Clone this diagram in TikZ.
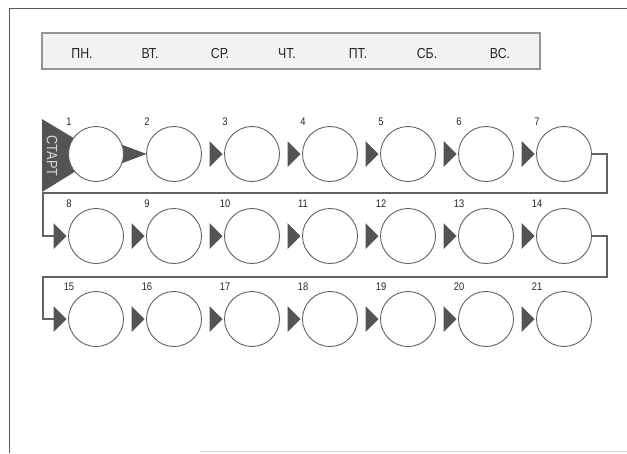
\documentclass[tikz,border=0pt]{standalone}
\usepackage{fontspec}
\setmainfont{Liberation Sans}
\newfontfamily\narrowfont{Liberation Sans}[FakeStretch=0.85]
\usetikzlibrary{calc}
\definecolor{linec}{gray}{0.38}
\definecolor{trig}{gray}{0.33}
\definecolor{hdrfill}{gray}{0.95}
\definecolor{hdrline}{gray}{0.58}
\begin{document}
\begin{tikzpicture}[x=1pt,y=-1pt,
  circ/.style={circle,draw=linec,line width=0.9pt,fill=white,minimum size=55pt,inner sep=0pt},
  num/.style={font=\narrowfont\fontsize{11}{11}\selectfont,text=black!85,inner sep=0pt},
  day/.style={font=\narrowfont\fontsize{14.5}{14.5}\selectfont,text=black!85,inner sep=0pt},
  tri/.style={fill=trig,draw=none},
  link/.style={draw=linec,line width=1.3pt},
  frame/.style={draw=black!65,line width=1pt}]
\useasboundingbox (0,0) rectangle (627,453);
% outer frame
\coordinate (f1) at (627,8);
\coordinate (f2) at (9,8);
\coordinate (f3) at (9,453);
\draw[frame] (f1) -- (f2) -- (f3);
\coordinate (g1) at (200,451);
\coordinate (g2) at (627,451);
\draw[draw=black!15,line width=1pt] (g1) -- (g2);
% header
\node[draw=hdrline,fill=hdrfill,line width=2pt,minimum width=498pt,minimum height=36pt,inner sep=0pt] (hdr) at (291,51) {};
\node[day] (d1) at (82,54) {ПН.};
\node[day] (d2) at (150,54) {ВТ.};
\node[day] (d3) at (220,54) {СР.};
\node[day] (d4) at (287,54) {ЧТ.};
\node[day] (d5) at (358,54) {ПТ.};
\node[day] (d6) at (427,54) {СБ.};
\node[day] (d7) at (500,54) {ВС.};
% start triangle
\coordinate (s1) at (42,119);
\coordinate (s2) at (42,192);
\coordinate (s3) at (102,155);
\fill[tri] (s1) -- (s3) -- (s2) -- cycle;
% circles
\foreach \n in {1,...,21}{
  \pgfmathtruncatemacro{\row}{(\n-1)/7}
  \pgfmathtruncatemacro{\col}{\n-1-7*\row}
  \pgfmathsetmacro{\cy}{\row==0 ? 154 : (\row==1 ? 236 : 319)}
  \coordinate (p\n) at ({96+78*\col},\cy);
}
% connectors between rows
\coordinate (k1) at (607,193);
\coordinate (k2) at (43,193);
\coordinate (k3) at (607,277);
\coordinate (k4) at (43,277);
\path (p8) ++(-27.5-15,0) coordinate (b8);
\path (p15) ++(-27.5-15,0) coordinate (b15);
\path (p7) ++(27.5,0) coordinate (e7);
\path (p14) ++(27.5,0) coordinate (e14);
\draw[link] (e7) -| (k1) -- (k2) |- (b8);
\draw[link] (e14) -| (k3) -- (k4) |- (b15);
% triangles between circles
\foreach \m in {3,4,5,6,7,8,9,10,11,12,13,14,15,16,17,18,19,20,21}{
  \fill[tri] ($(p\m)+(-29.5,0)$) -- ++(-13,-13) -- ++(0,26) -- cycle;
}
% triangle 1 -> 2
\fill[tri] ($(p1)+(24,-10)$) -- ($(p2)+(-27.5,0)$) -- ($(p1)+(24,10)$) -- cycle;
% circle nodes and numbers
\foreach \n in {1,...,21}{
  \node[circ] (c\n) at (p\n) {};
  \node[num] (n\n) at ($(p\n)+(-27,-32)$) {\n};
}
\node[rotate=-90,text=black!15,font=\narrowfont\fontsize{15}{15}\selectfont,inner sep=0pt] (start) at (52,156) {СТАРТ};
\end{tikzpicture}
\end{document}
